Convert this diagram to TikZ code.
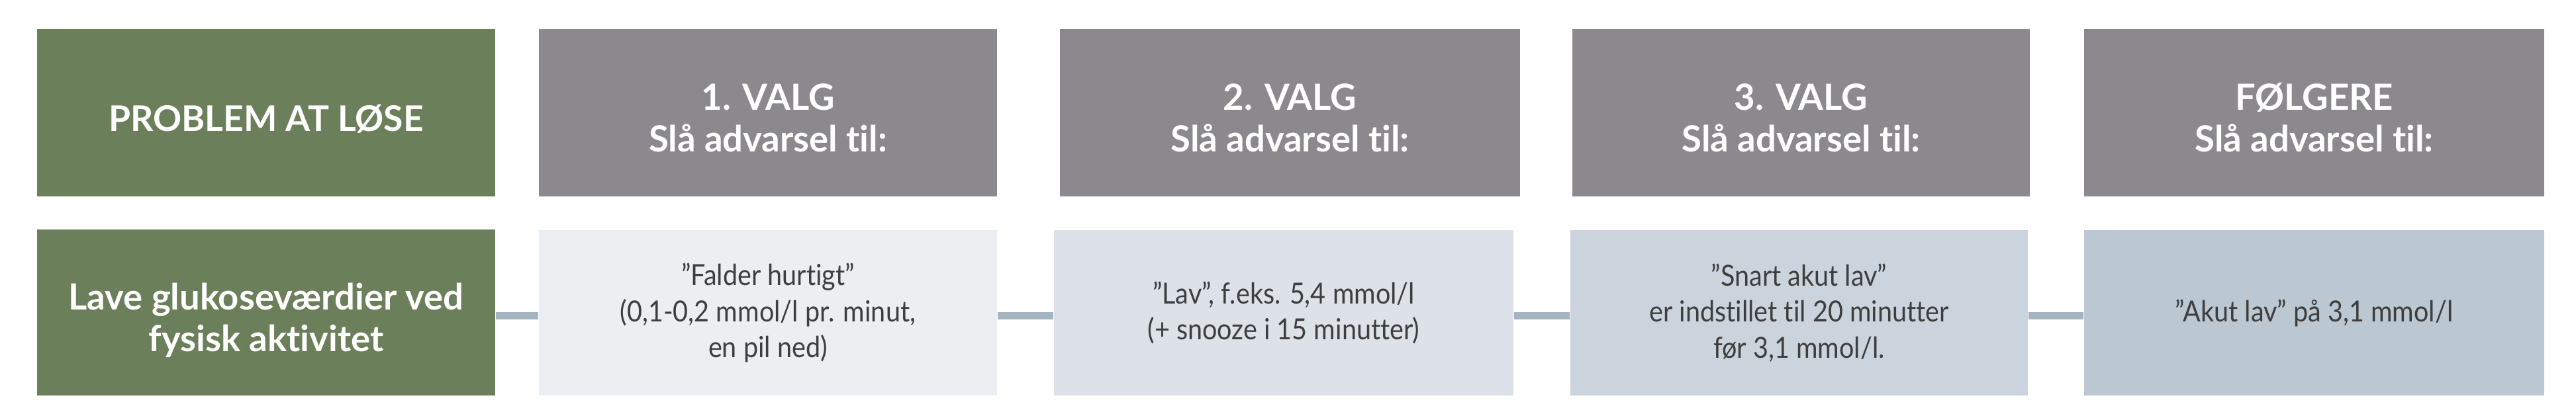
\documentclass[tikz,border=0pt]{standalone}
\usepackage{fontspec}
\setmainfont{Lato}[Ligatures=NoCommon]
\newfontfamily\condfont{Lato}[Ligatures=NoCommon, FakeStretch=0.9]
\usepackage{tikz}

\definecolor{probgreen}{RGB}{107,128,90}
\definecolor{headgray}{RGB}{140,137,142}
\definecolor{alarmA}{RGB}{235,239,242}
\definecolor{alarmB}{RGB}{220,226,232}
\definecolor{alarmC}{RGB}{203,212,221}
\definecolor{alarmD}{RGB}{187,199,209}
\definecolor{linkblue}{RGB}{164,180,193}
\definecolor{txtgray}{RGB}{62,62,62}

\begin{document}
\begin{tikzpicture}[
    box/.style={rectangle, inner sep=0pt, align=center, minimum width=6.92cm},
    head/.style={box, minimum height=2.53cm, fill=headgray, text=white,
        font=\bfseries\fontsize{15.5}{17.9}\selectfont},
    alarm/.style={box, minimum height=2.5cm, text=txtgray,
        font=\condfont\fontsize{12.5}{15.5}\selectfont},
    link/.style={line width=0.11cm, linkblue}
]
    \useasboundingbox (0, 0) rectangle (38.91, 6.25);

    \node[head, fill=probgreen, text height=16.5pt, font=\bfseries\fontsize{15.2}{17.9}\selectfont] (probhead) at (4.02, 4.545) {PROBLEM AT LØSE};
    \node[head, text height=33.5pt] (valg1) at (11.60, 4.545) {1. VALG\\Slå advarsel til:};
    \node[head, text height=33.5pt, minimum width=6.95cm] (valg2) at (19.485, 4.545) {2. VALG\\Slå advarsel til:};
    \node[head, text height=33.5pt, minimum width=6.91cm] (valg3) at (27.205, 4.545) {3. VALG\\Slå advarsel til:};
    \node[head, text height=33.5pt, minimum width=6.95cm] (follow) at (34.955, 4.545) {FØLGERE\\Slå advarsel til:};

    \node[box, minimum height=2.51cm, fill=probgreen, text=white, text height=36pt,
        font=\bfseries\fontsize{15.5}{17.9}\selectfont] (prob) at (4.02, 1.525) {Lave glukoseværdier ved\\fysisk aktivitet};
    \node[alarm, fill=alarmA] (falls) at (11.60, 1.52) {”Falder hurtigt”\\(0,1-0,2 mmol/l pr. minut,\\en pil ned)};
    \node[alarm, fill=alarmB, minimum width=6.94cm] (low) at (19.39, 1.52) {”Lav”, f.eks. 5,4 mmol/l\\(+ snooze i 15 minutter)};
    \node[alarm, fill=alarmC, minimum width=6.91cm] (soon) at (27.175, 1.52) {”Snart akut lav”\\er indstillet til 20 minutter\\før 3,1 mmol/l.};
    \node[alarm, fill=alarmD, minimum width=6.95cm] (urgent) at (34.955, 1.52) {”Akut lav” på 3,1 mmol/l};

    \draw[link] (prob.east |- 0, 1.48) -- (falls.west |- 0, 1.48);
    \draw[link] (falls.east |- 0, 1.48) -- (low.west |- 0, 1.48);
    \draw[link] (low.east |- 0, 1.48) -- (soon.west |- 0, 1.48);
    \draw[link] (soon.east |- 0, 1.48) -- (urgent.west |- 0, 1.48);
\end{tikzpicture}
\end{document}
